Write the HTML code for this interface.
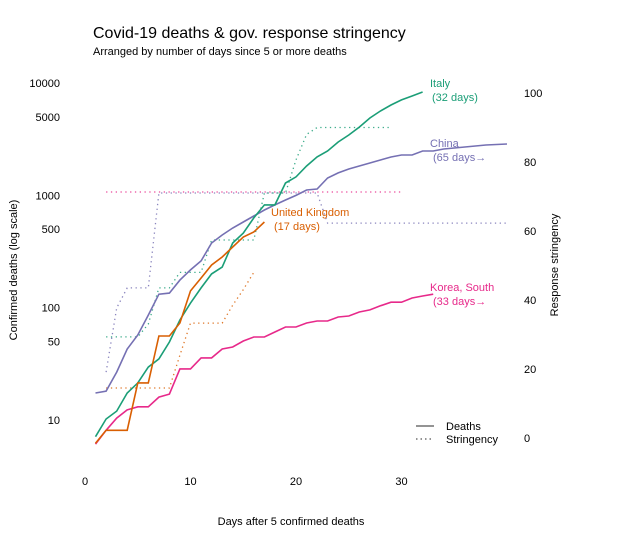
<!DOCTYPE html>
<html><head><meta charset="utf-8">
<style>
body{margin:0;background:#fff;font-family:"Liberation Sans",sans-serif;}
svg text{font-family:"Liberation Sans",sans-serif;}
</style></head>
<body>
<svg id="chart" width="621" height="549" viewBox="0 0 621 549" xmlns="http://www.w3.org/2000/svg">
<rect width="621" height="549" fill="#fff"/>
<text x="93" y="38" font-size="16" fill="#000">Covid-19 deaths &amp; gov. response stringency</text>
<text x="93" y="55" font-size="11" fill="#000">Arranged by number of days since 5 or more deaths</text>
<text x="291" y="525" font-size="11" text-anchor="middle">Days after 5 confirmed deaths</text>
<text transform="translate(17,270) rotate(-90)" font-size="11" text-anchor="middle">Confirmed deaths (log scale)</text>
<text transform="translate(558,265) rotate(-90)" font-size="11" text-anchor="middle">Response stringency</text>
<g id="ticks"></g>
<g id="marks"></g>
<g>
<line x1="416" y1="426" x2="434" y2="426" stroke="#555" stroke-width="1.3"/>
<text x="446" y="430" font-size="11">Deaths</text>
<line x1="416" y1="439" x2="434" y2="439" stroke="#555" stroke-width="1.3" stroke-dasharray="1.5,3"/>
<text x="446" y="443" font-size="11">Stringency</text>
</g>
</svg>
<script>
const xTicks=[0,10,20,30];
const yLeftTicks=[10,50,100,500,1000,5000,10000];
const yRightTicks=[0,20,40,60,80,100];
const italyDeaths=[7.1,10.2,12,17.4,21.4,29.6,35,49.5,77.7,110,150,200,230,377,462,630,823,823,1290,1460,1827,2200,2485,2990,3450,4060,4890,5640,6380,7080,7680,8330];
const chinaDeaths=[17.4,18.1,26.7,42.9,57.1,86,132,135,176,217,261,377,444,513,580,656,742,823,910,1000,1117,1140,1430,1585,1720,1827,1944,2066,2198,2290,2290,2485,2485,2590,2645,2700,2755,2810,2840,2870];
const ukDeaths=[6.2,8.1,8.1,8.1,21.4,21.4,56,56,73,141,184,240,283,347,426,472,580];
const koreaDeaths=[6.1,8.1,10.4,12.3,13.1,13.1,16,17,28.5,28.5,35.7,35.7,42.9,44.7,50.5,54.8,54.8,60.8,67.3,67.3,73.1,76.2,76.2,82.6,84.4,91.6,95.5,104,112,112,122,127,132];
// stringency series start at day 2
const italyStr=[29.3,29.3,29.3,29.3,33,43.5,43.5,48,48,48,57.4,57.4,57.4,57.4,57.4,71,71,71,80.6,88,90,90,90,90,90,90,90,90];
const chinaStr=[19.1,37.7,43.5,43.5,43.5,71,71,71,71,71,71,71,71,71,71,71,71,71,71,71,71,62.3,62.3,62.3,62.3,62.3,62.3,62.3,62.3,62.3,62.3,62.3,62.3,62.3,62.3,62.3,62.3,62.3,62.3];
const ukStr=[14.5,14.5,14.5,14.5,14.5,14.5,14.5,24,33.3,33.3,33.3,33.3,38.5,43,48];
const koreaStr=[71.3,71.3,71.3,71.3,71.3,71.3,71.3,71.3,71.3,71.3,71.3,71.3,71.3,71.3,71.3,71.3,71.3,71.3,71.3,71.3,71.3,71.3,71.3,71.3,71.3,71.3,71.3,71.3,71.3];

const NS="http://www.w3.org/2000/svg";
const xS=d=>85+10.55*d;
const yL=v=>420-112.3*(Math.log10(v)-1);
const yR=s=>438-3.45*s;
const ticks=document.getElementById('ticks');
const marks=document.getElementById('marks');
function txt(x,y,s,anchor,name){const t=document.createElementNS(NS,'text');t.setAttribute('x',x);t.setAttribute('y',y);t.setAttribute('font-size','11');t.setAttribute('text-anchor',anchor);t.textContent=s;


ticks.appendChild(t);}
xTicks.forEach(v=>txt(xS(v),485,String(v),'middle','x-tick-label'));
yLeftTicks.forEach(v=>txt(60,yL(v)+4,String(v),'end','y-left-tick-label'));
yRightTicks.forEach(v=>txt(524,yR(v)+4,String(v),'start','y-right-tick-label'));

function line(arr,start,yf,color,dotted,name){
  const pts=arr.map((v,i)=>xS(i+start).toFixed(1)+','+yf(v).toFixed(1)).join(' ');
  const p=document.createElementNS(NS,'polyline');
  p.setAttribute('points',pts);p.setAttribute('fill','none');p.setAttribute('stroke',color);
  p.setAttribute('stroke-width',dotted?'1.3':'1.6');
  if(dotted){p.setAttribute('stroke-dasharray','1.3,3.5');p.setAttribute('opacity','0.85');}
  
  
  marks.appendChild(p);
}
const C={italy:'#1b9e77',china:'#7570b3',uk:'#d95f02',korea:'#e7298a'};
line(koreaStr,2,yR,C.korea,true,'korea-stringency-line');
line(chinaStr,2,yR,C.china,true,'china-stringency-line');
line(italyStr,2,yR,C.italy,true,'italy-stringency-line');
line(ukStr,2,yR,C.uk,true,'uk-stringency-line');
line(chinaDeaths,1,yL,C.china,false,'china-deaths-line');
line(italyDeaths,1,yL,C.italy,false,'italy-deaths-line');
line(koreaDeaths,1,yL,C.korea,false,'korea-deaths-line');
line(ukDeaths,1,yL,C.uk,false,'uk-deaths-line');
function lab(x,y,s,c,name){const t=document.createElementNS(NS,'text');t.setAttribute('x',x);t.setAttribute('y',y);t.setAttribute('font-size','11');t.setAttribute('fill',c);t.textContent=s;


marks.appendChild(t);}
lab(430,87,'Italy',C.italy,'italy-label');lab(432,101,'(32 days)',C.italy,'italy-days-label');
lab(430,147,'China',C.china,'china-label');lab(433,161,'(65 days\u2192',C.china,'china-days-label');
lab(271,216,'United Kingdom',C.uk,'uk-label');lab(274,230,'(17 days)',C.uk,'uk-days-label');
lab(430,291,'Korea, South',C.korea,'korea-label');lab(433,305,'(33 days\u2192',C.korea,'korea-days-label');
</script>
</body></html>
